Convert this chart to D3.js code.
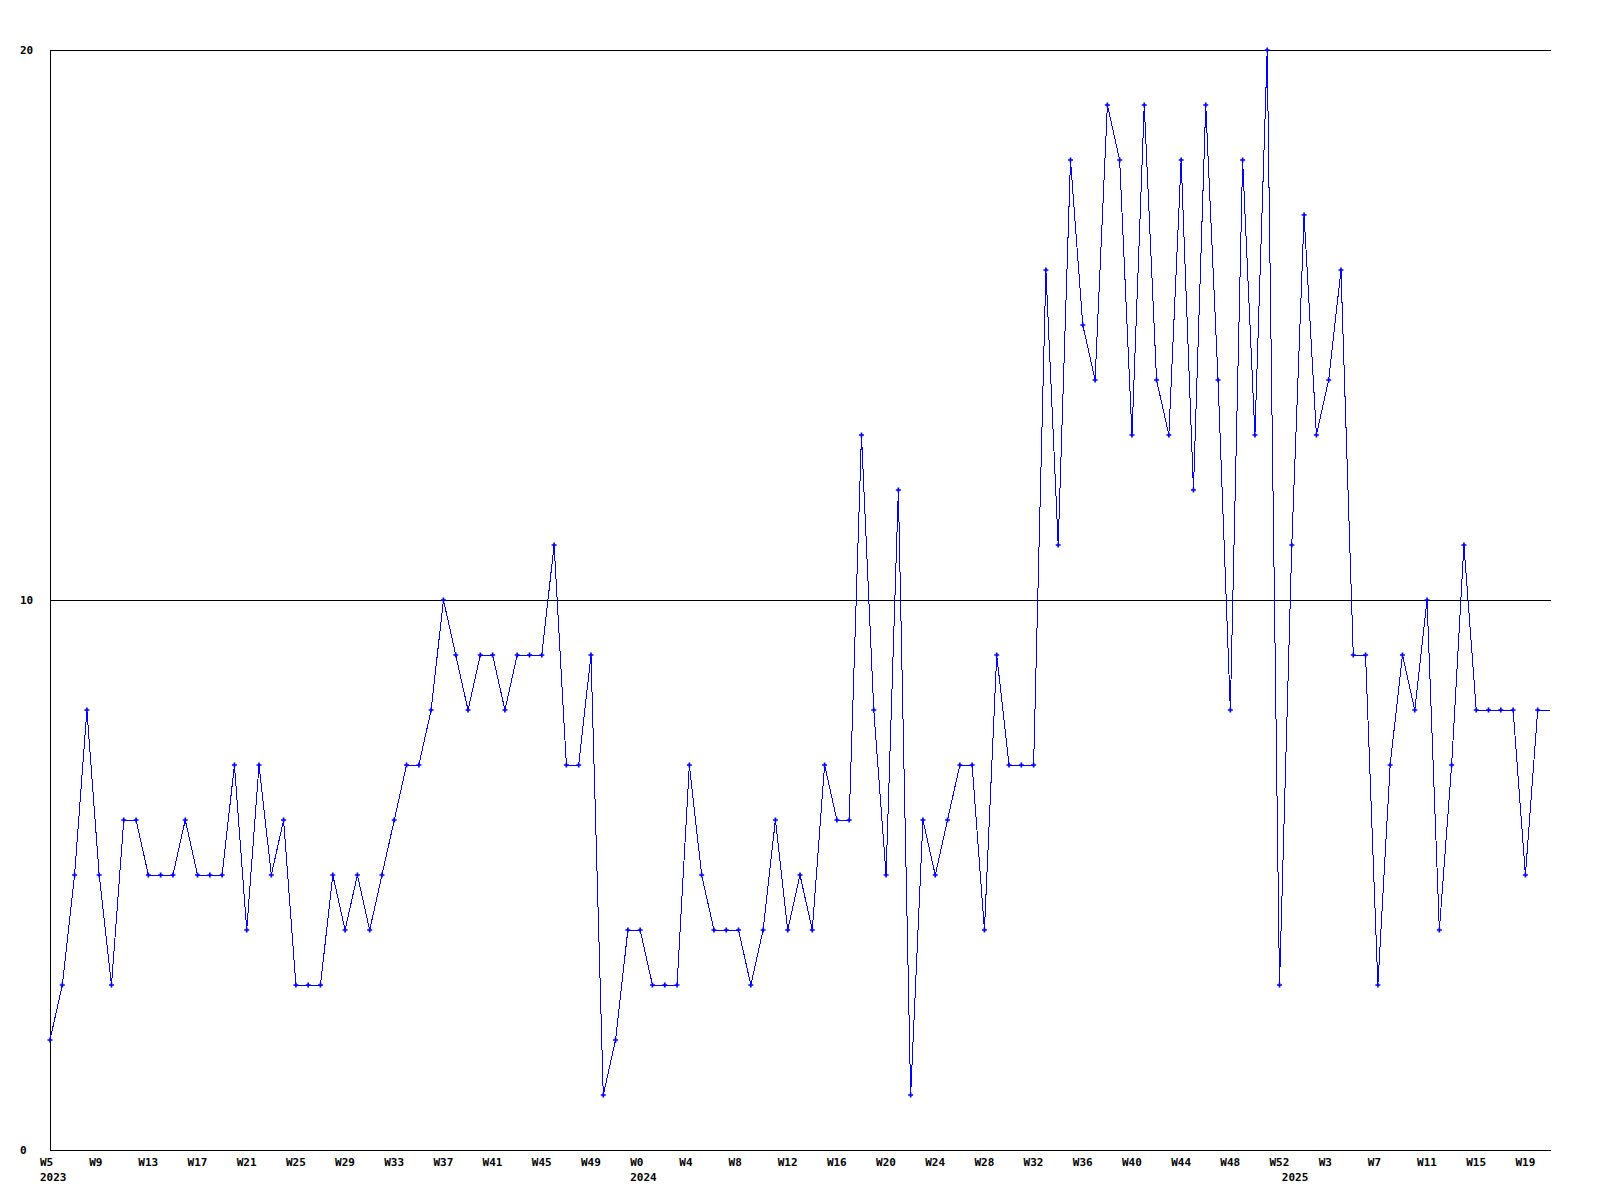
<!DOCTYPE html>
<html>
<head>
<meta charset="utf-8">
<script src="https://cdn.jsdelivr.net/npm/d3@7"></script>
<style>
  html, body { margin: 0; padding: 0; background: #fff; }
  svg text { font-family: "DejaVu Sans Mono", "Liberation Mono", monospace; font-weight: bold; font-size: 11px; fill: #000; }
</style>
</head>
<body>
<svg id="chart" width="1600" height="1200"></svg>
<script>
// Week categories (year, week number) for each point
const years = [
  2023,2023,2023,2023,2023,2023,2023,2023,2023,2023,2023,2023,2023,2023,2023,2023,
  2023,2023,2023,2023,2023,2023,2023,2023,2023,2023,2023,2023,2023,2023,2023,2023,
  2023,2023,2023,2023,2023,2023,2023,2023,2023,2023,2023,2023,2023,2023,2023,2023,
  2024,2024,2024,2024,2024,2024,2024,2024,2024,2024,2024,2024,2024,2024,2024,2024,
  2024,2024,2024,2024,2024,2024,2024,2024,2024,2024,2024,2024,2024,2024,2024,2024,
  2024,2024,2024,2024,2024,2024,2024,2024,2024,2024,2024,2024,2024,2024,2024,2024,
  2024,2024,2024,2024,2024,
  2025,2025,2025,2025,2025,2025,2025,2025,2025,2025,2025,2025,2025,2025,2025,2025,
  2025,2025,2025,2025,2025,2025
];
const weeks = [
  5,6,7,8,9,10,11,12,13,14,15,16,17,18,19,20,
  21,22,23,24,25,26,27,28,29,30,31,32,33,34,35,36,
  37,38,39,40,41,42,43,44,45,46,47,48,49,50,51,52,
  0,1,2,3,4,5,6,7,8,9,10,11,12,13,14,15,
  16,17,18,19,20,21,22,23,24,25,26,27,28,29,30,31,
  32,33,34,35,36,37,38,39,40,41,42,43,44,45,46,47,
  48,49,50,51,52,
  0,1,2,3,4,5,6,7,8,9,10,11,12,13,14,15,
  16,17,18,19,20,21
];
// Series values
const values = [
  2,3,5,8,5,3,6,6,5,5,
  5,6,5,5,5,7,4,7,5,6,
  3,3,3,5,4,5,4,5,6,7,
  7,8,10,9,8,9,9,8,9,9,
  9,11,7,7,9,1,2,4,4,3,
  3,3,7,5,4,4,4,3,4,6,
  4,5,4,7,6,6,13,8,5,12,
  1,6,5,6,7,7,4,9,7,7,
  7,16,11,18,15,14,19,18,13,19,
  14,13,18,12,19,14,8,18,13,20,
  3,11,17,13,14,16,9,9,3,7,
  9,8,10,4,7,11,8,8,8,8,
  5,8,8
];
const yTicks = [0, 10, 20];
const weekLabelEvery = 4;

const data = values.map((v, i) => ({ i, v, year: years[i], week: weeks[i] }));

const svg = d3.select("#chart");
const x = d3.scaleLinear().domain([0, values.length - 1]).range([50, 1550]);
const y = d3.scaleLinear().domain([0, 20]).range([1150, 50]);
const x0 = x.range()[0], x1 = x.range()[1] + 1;

// Horizontal grid lines (non-zero ticks)
svg.append("g").selectAll("line")
  .data(yTicks.filter(t => t !== 0))
  .join("line")
  .attr("x1", x0).attr("x2", x1)
  .attr("y1", d => Math.round(y(d)) + 0.5).attr("y2", d => Math.round(y(d)) + 0.5)
  .attr("stroke", "#000").attr("stroke-width", 1)
  .attr("shape-rendering", "crispEdges");

// Axes lines
svg.append("line")
  .attr("x1", x0 + 0.5).attr("x2", x0 + 0.5)
  .attr("y1", y(20)).attr("y2", y(0) + 1)
  .attr("stroke", "#000").attr("shape-rendering", "crispEdges");
svg.append("line")
  .attr("x1", x0).attr("x2", x1)
  .attr("y1", y(0) + 0.5).attr("y2", y(0) + 0.5)
  .attr("stroke", "#000").attr("shape-rendering", "crispEdges");

// Y labels
svg.append("g").selectAll("text")
  .data(yTicks)
  .join("text")
  .attr("x", 20)
  .attr("y", d => y(d))
  .attr("dy", "0.36em")
  .text(d => d);

// Week labels
svg.append("g").selectAll("text")
  .data(data.filter(d => d.i % weekLabelEvery === 0))
  .join("text")
  .attr("x", d => x(d.i) - 10)
  .attr("y", 1162)
  .attr("dy", "0.36em")
  .text(d => "W" + d.week);

// Year labels at first week of each year
svg.append("g").selectAll("text")
  .data(data.filter((d, k) => k === 0 || d.year !== data[k - 1].year))
  .join("text")
  .attr("x", d => x(d.i) - 10)
  .attr("y", 1177)
  .attr("dy", "0.36em")
  .text(d => d.year);

// Line
const line = d3.line().x(d => x(d.i)).y(d => y(d.v));
svg.append("path")
  .datum(data)
  .attr("d", line)
  .attr("fill", "none")
  .attr("stroke", "#0000ff")
  .attr("stroke-width", 1)
  .attr("shape-rendering", "crispEdges");

// Markers (last partial point has none)
const sym = d3.symbol().type(d3.symbolCross).size(14);
svg.append("g").selectAll("path")
  .data(data.slice(0, data.length - 1))
  .join("path")
  .attr("transform", d => `translate(${x(d.i)},${y(d.v)})`)
  .attr("d", sym)
  .attr("fill", "#0000ff");
</script>
</body>
</html>
